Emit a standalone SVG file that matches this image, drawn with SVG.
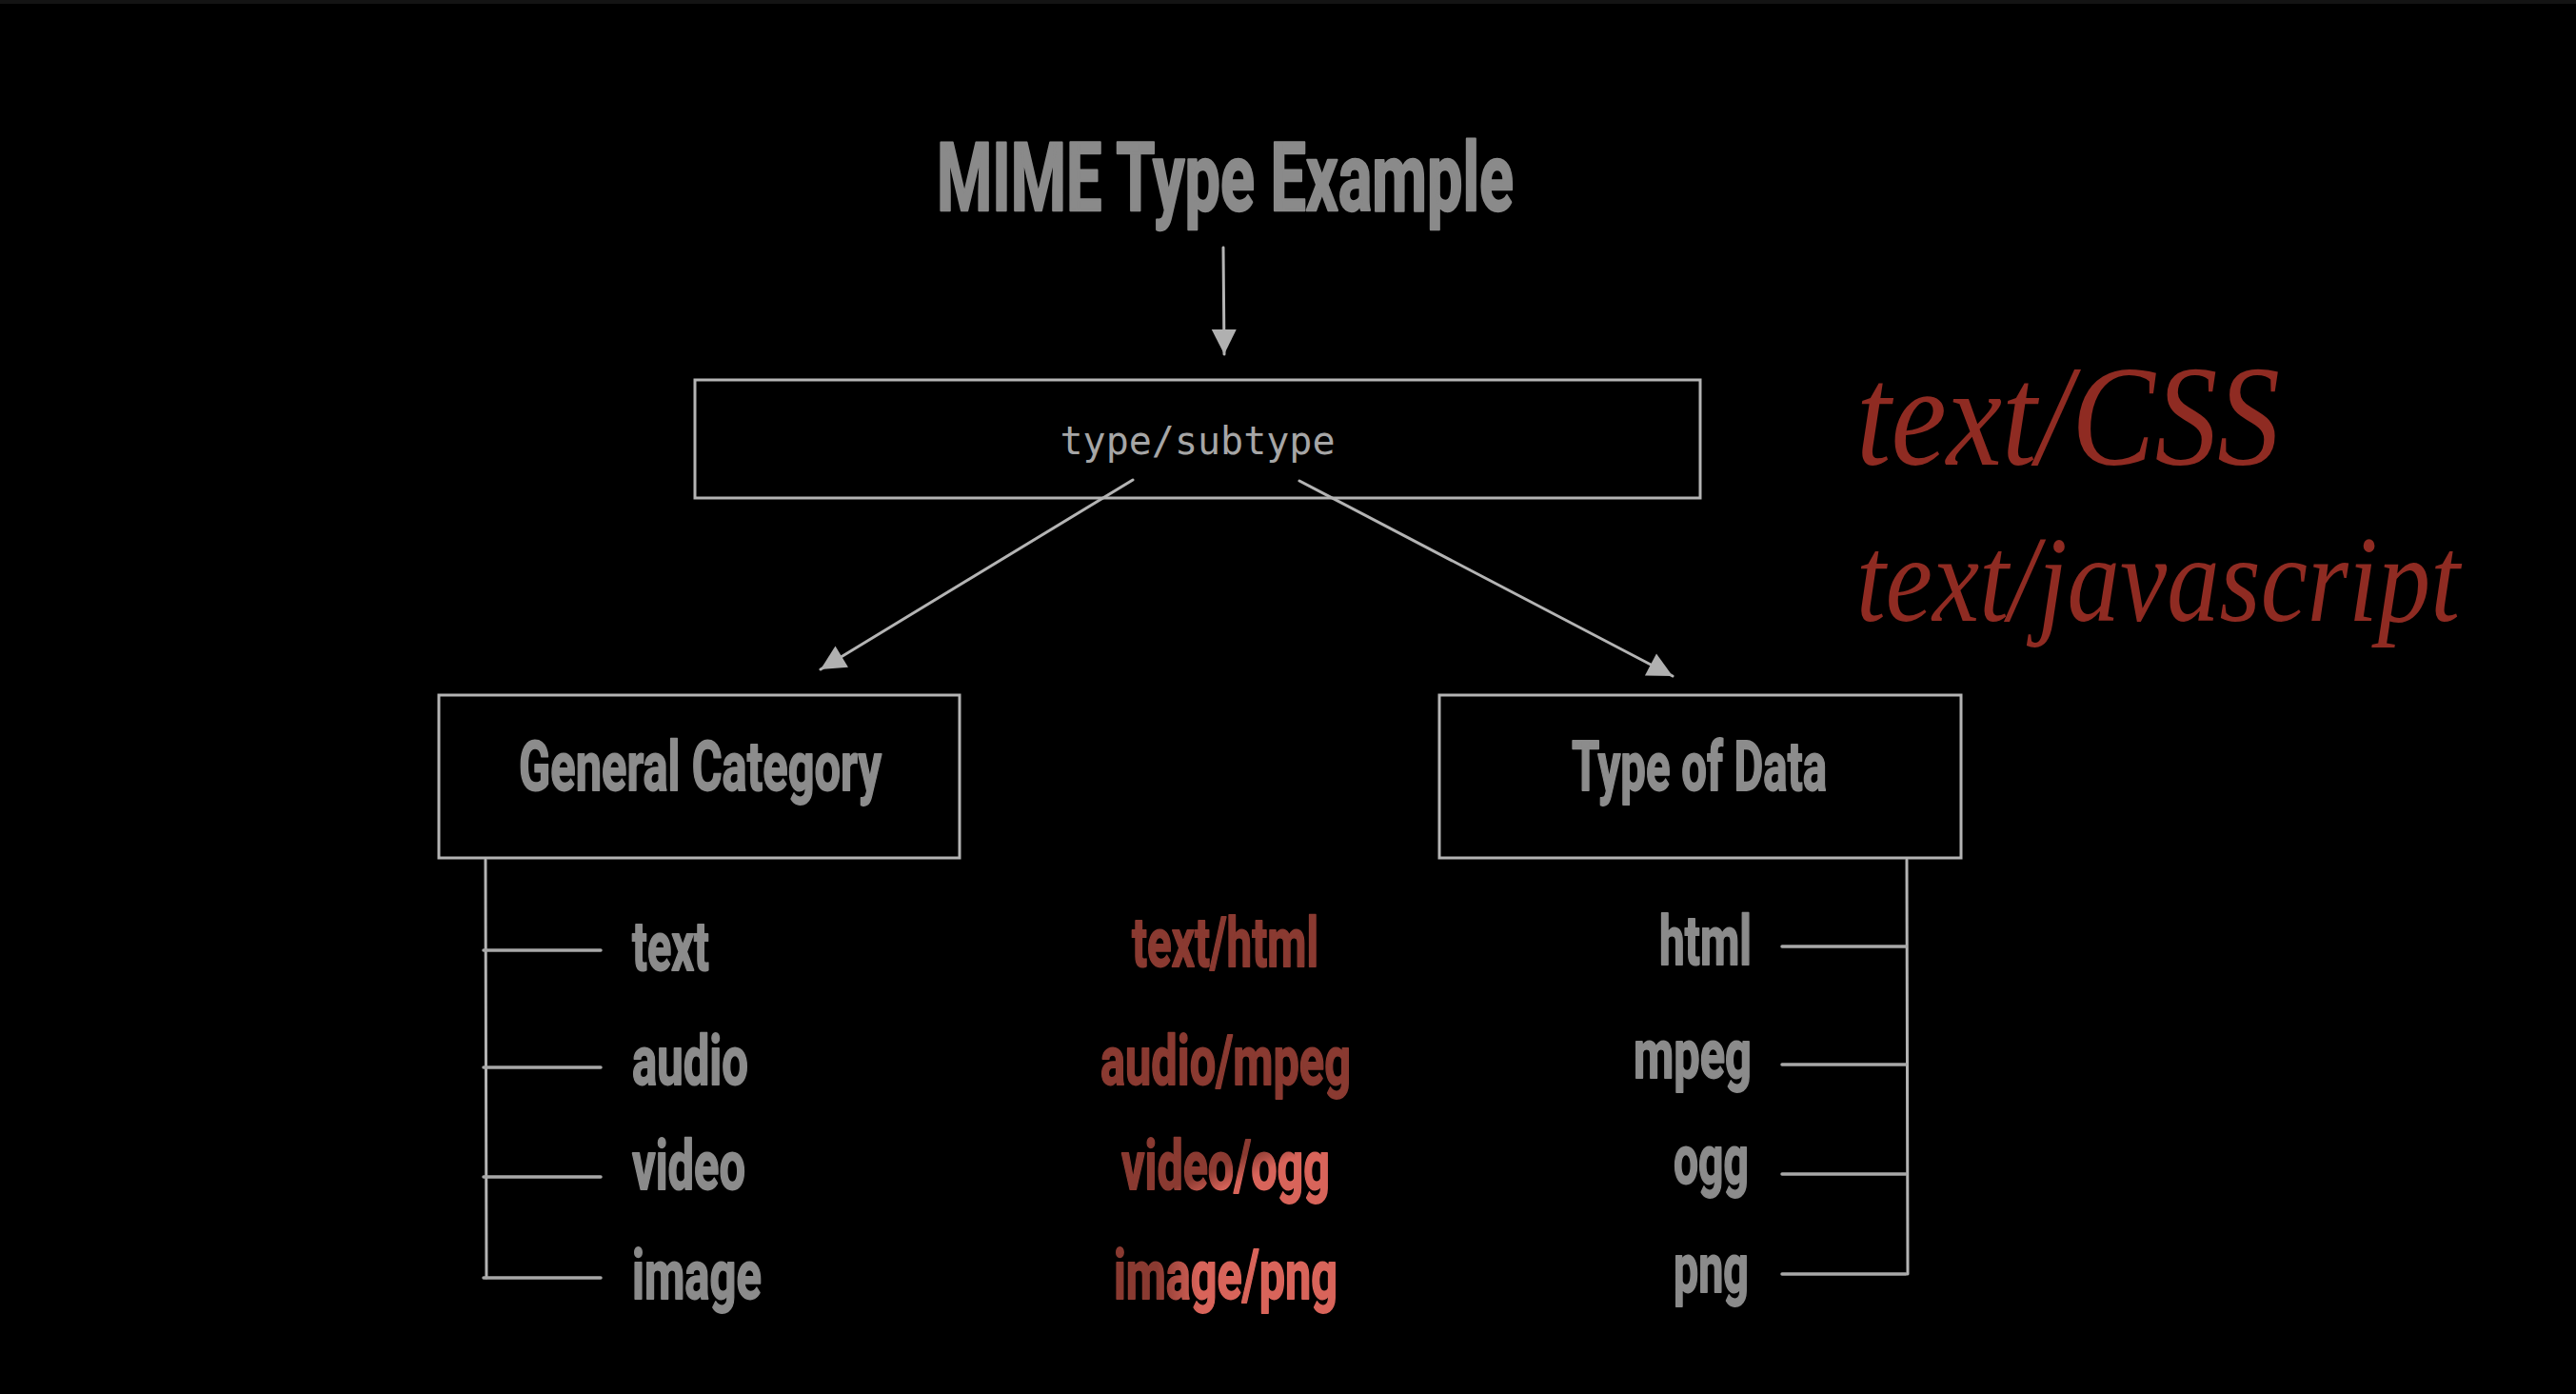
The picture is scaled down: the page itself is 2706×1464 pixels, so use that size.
<svg xmlns="http://www.w3.org/2000/svg" width="2706" height="1464" viewBox="0 0 2706 1464">
  <defs>
    <style>
      .bg { fill: #000000; }
      .box { fill: #000000; stroke: #b4b4b4; stroke-width: 3; }
      .line { fill: none; stroke: #b4b4b4; stroke-width: 3; stroke-linecap: round; }
      .tick { fill: none; stroke: #a8a8a8; stroke-width: 3.5; stroke-linecap: round; }
      .cond { font-family: Roboto, "Liberation Sans", sans-serif; font-weight: 700; stroke-linejoin: round; }
      .title { font-size: 101px; fill: #8a8a8a; stroke: #8a8a8a; stroke-width: 2.5px; }
      .head { font-size: 73px; fill: #8c8c8c; stroke: #8c8c8c; stroke-width: 1.8px; }
      .lbl { font-size: 73px; fill: #8b8b8b; stroke: #8b8b8b; stroke-width: 1.8px; }
      .red { font-size: 73px; fill: #8a3a31; stroke: #8a3a31; stroke-width: 1.8px; }
      .mono { font-family: "DejaVu Sans Mono", "Liberation Mono", monospace; font-size: 40px; fill: #a6a6a6; }
      .hand { font-family: "Liberation Serif", "DejaVu Serif", serif; font-style: italic; fill: #8f2b22; }
    </style>
    <marker id="arrow" markerUnits="userSpaceOnUse" markerWidth="30" markerHeight="30" viewBox="0 0 30 30" refX="28" refY="15" orient="auto">
      <path d="M2,2 L28,15 L2,28 Z" fill="#b0b0b0"/>
    </marker>
    <linearGradient id="gPng" gradientUnits="userSpaceOnUse" x1="1215" y1="0" x2="1260" y2="0">
      <stop offset="0" stop-color="#8a3a31"/>
      <stop offset="1" stop-color="#d8645a"/>
    </linearGradient>
    <linearGradient id="gOgg" gradientUnits="userSpaceOnUse" x1="1296" y1="1218" x2="1306" y2="1240">
      <stop offset="0" stop-color="#8a3a31"/>
      <stop offset="1" stop-color="#d8645a"/>
    </linearGradient>
  </defs>

  <rect class="bg" x="0" y="0" width="2706" height="1464"/>
  <rect x="0" y="0" width="2706" height="4" fill="#141414"/>

  <g id="title">
    <text class="cond title" x="984" y="221" textLength="606" lengthAdjust="spacingAndGlyphs">MIME Type Example</text>
  </g>

  <g id="node-type-subtype">
    <rect class="box" x="730" y="399" width="1056" height="124"/>
    <text class="mono" x="1258" y="477" text-anchor="middle">type/subtype</text>
  </g>

  <g id="node-general-category">
    <rect class="box" x="461" y="730" width="547" height="171"/>
    <text class="cond head" x="545" y="830" textLength="381" lengthAdjust="spacingAndGlyphs">General Category</text>
  </g>

  <g id="node-type-of-data">
    <rect class="box" x="1512" y="730" width="548" height="171"/>
    <text class="cond head" x="1651" y="830" textLength="268" lengthAdjust="spacingAndGlyphs">Type of Data</text>
  </g>

  <g id="connectors">
    <line class="line" x1="1285" y1="260" x2="1286" y2="372" marker-end="url(#arrow)"/>
    <line class="line" x1="1190" y1="504" x2="862" y2="703" marker-end="url(#arrow)"/>
    <line class="line" x1="1365" y1="505" x2="1757" y2="710" marker-end="url(#arrow)"/>
    <line class="line" x1="510" y1="903" x2="511" y2="1342"/>
    <line class="tick" x1="508" y1="998" x2="631" y2="998"/>
    <line class="tick" x1="508" y1="1121" x2="631" y2="1121"/>
    <line class="tick" x1="508" y1="1236" x2="631" y2="1236"/>
    <line class="tick" x1="508" y1="1342" x2="631" y2="1342"/>
    <line class="line" x1="2003" y1="903" x2="2004" y2="1338"/>
    <line class="tick" x1="1872" y1="994" x2="2002" y2="994"/>
    <line class="tick" x1="1872" y1="1118" x2="2002" y2="1118"/>
    <line class="tick" x1="1872" y1="1233" x2="2002" y2="1233"/>
    <line class="tick" x1="1872" y1="1338" x2="2002" y2="1338"/>
  </g>

  <g id="general-items">
    <text class="cond lbl" x="664" y="1019" textLength="81" lengthAdjust="spacingAndGlyphs">text</text>
    <text class="cond lbl" x="664" y="1139" textLength="122" lengthAdjust="spacingAndGlyphs">audio</text>
    <text class="cond lbl" x="664" y="1249" textLength="119" lengthAdjust="spacingAndGlyphs">video</text>
    <text class="cond lbl" x="664" y="1364" textLength="136" lengthAdjust="spacingAndGlyphs">image</text>
  </g>

  <g id="examples">
    <text class="cond red" x="1189" y="1015" textLength="196" lengthAdjust="spacingAndGlyphs">text/html</text>
    <text class="cond red" x="1156" y="1139" textLength="263" lengthAdjust="spacingAndGlyphs">audio/mpeg</text>
    <text class="cond red" x="1178" y="1249" textLength="219" lengthAdjust="spacingAndGlyphs" style="fill:url(#gOgg);stroke:url(#gOgg)">video/ogg</text>
    <text class="cond red" x="1170" y="1364" textLength="235" lengthAdjust="spacingAndGlyphs" style="fill:url(#gPng);stroke:url(#gPng)">image/png</text>
  </g>

  <g id="data-items">
    <text class="cond lbl" x="1743" y="1013" textLength="97" lengthAdjust="spacingAndGlyphs">html</text>
    <text class="cond lbl" x="1716" y="1132" textLength="124" lengthAdjust="spacingAndGlyphs">mpeg</text>
    <text class="cond lbl" x="1758" y="1243" textLength="79" lengthAdjust="spacingAndGlyphs">ogg</text>
    <text class="cond lbl" x="1758" y="1357" textLength="79" lengthAdjust="spacingAndGlyphs">png</text>
  </g>

  <g id="handwritten-note">
    <text class="hand" x="1950" y="488" font-size="150" textLength="445" lengthAdjust="spacingAndGlyphs">text/CSS</text>
    <text class="hand" x="1950" y="652" font-size="130" textLength="634" lengthAdjust="spacingAndGlyphs">text/javascript</text>
  </g>
</svg>
